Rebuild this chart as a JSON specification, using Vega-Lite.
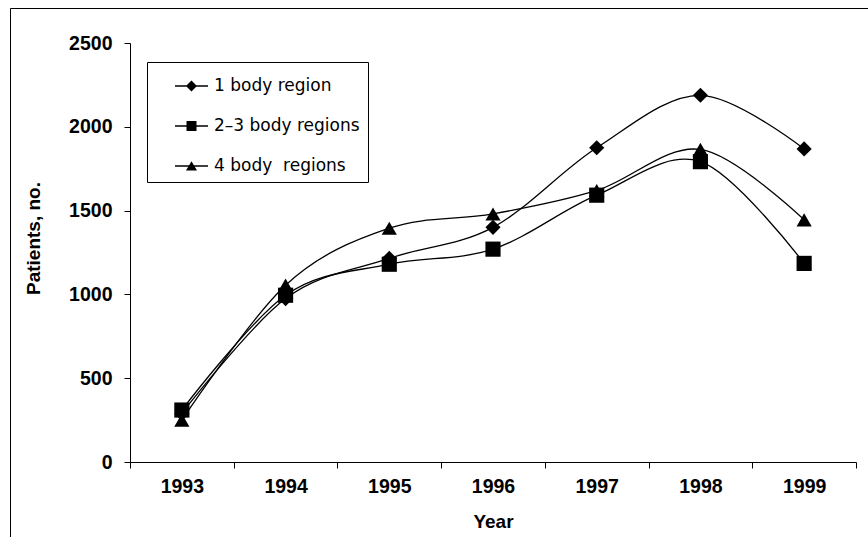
{
  "$schema": "https://vega.github.io/schema/vega-lite/v6.json",
  "width": 870,
  "height": 540,
  "autosize": {"type": "none"},
  "padding": {"left": 10, "top": 8, "right": 0, "bottom": 0},
  "background": "white",
  "config": {
    "view": {"stroke": "black", "strokeWidth": 1},
    "font": "Liberation Sans"
  },
  "data": {
    "values": [
      {"year": 1993, "series": "1 body region", "patients": 290},
      {"year": 1994, "series": "1 body region", "patients": 975},
      {"year": 1995, "series": "1 body region", "patients": 1215},
      {"year": 1996, "series": "1 body region", "patients": 1400},
      {"year": 1997, "series": "1 body region", "patients": 1875},
      {"year": 1998, "series": "1 body region", "patients": 2188},
      {"year": 1999, "series": "1 body region", "patients": 1868},
      {"year": 1993, "series": "2–3 body regions", "patients": 310},
      {"year": 1994, "series": "2–3 body regions", "patients": 995},
      {"year": 1995, "series": "2–3 body regions", "patients": 1180},
      {"year": 1996, "series": "2–3 body regions", "patients": 1270},
      {"year": 1997, "series": "2–3 body regions", "patients": 1592},
      {"year": 1998, "series": "2–3 body regions", "patients": 1792},
      {"year": 1999, "series": "2–3 body regions", "patients": 1185},
      {"year": 1993, "series": "4 body\u00a0 regions", "patients": 250},
      {"year": 1994, "series": "4 body\u00a0 regions", "patients": 1055},
      {"year": 1995, "series": "4 body\u00a0 regions", "patients": 1395},
      {"year": 1996, "series": "4 body\u00a0 regions", "patients": 1480},
      {"year": 1997, "series": "4 body\u00a0 regions", "patients": 1620},
      {"year": 1998, "series": "4 body\u00a0 regions", "patients": 1865},
      {"year": 1999, "series": "4 body\u00a0 regions", "patients": 1445}
    ]
  },
  "encoding": {
    "x": {
      "field": "year",
      "type": "ordinal",
      "scale": {"type": "band", "range": [120, 846], "paddingInner": 0, "paddingOuter": 0},
      "axis": {
        "title": "Year",
        "offset": -86,
        "tickBand": "extent",
        "labelAngle": 0,
        "grid": false,
        "domainColor": "black",
        "tickColor": "black",
        "tickSize": 6,
        "labelFont": "Liberation Sans",
        "labelFontWeight": "bold",
        "labelFontSize": 19.5,
        "labelColor": "black",
        "labelPadding": 9,
        "titleFont": "Liberation Sans",
        "titleFontSize": 19,
        "titleFontWeight": "bold",
        "titleColor": "black",
        "titleY": 65,
        "titleBaseline": "alphabetic"
      }
    },
    "y": {
      "field": "patients",
      "type": "quantitative",
      "scale": {"domain": [0, 2500], "range": [454, 35], "nice": false},
      "axis": {
        "title": "Patients, no.",
        "offset": -120,
        "values": [0, 500, 1000, 1500, 2000, 2500],
        "format": "d",
        "grid": false,
        "domainColor": "black",
        "tickColor": "black",
        "tickSize": 6,
        "labelPadding": 12,
        "labelFont": "Liberation Sans",
        "labelFontWeight": "bold",
        "labelFontSize": 19.5,
        "labelColor": "black",
        "titleFont": "Liberation Sans",
        "titleFontSize": 19,
        "titleFontWeight": "bold",
        "titleColor": "black",
        "titleX": -87,
        "titleY": 230
      }
    }
  },
  "layer": [
    {
      "mark": {"type": "line", "interpolate": "cardinal", "color": "black", "strokeWidth": 1.3},
      "encoding": {"detail": {"field": "series", "type": "nominal"}}
    },
    {
      "mark": {"type": "point", "filled": true, "color": "black", "opacity": 1, "size": 230},
      "encoding": {
        "shape": {
          "field": "series",
          "type": "nominal",
          "scale": {
            "domain": ["1 body region", "2–3 body regions", "4 body\u00a0 regions"],
            "range": ["diamond", "square", "triangle-up"]
          },
          "legend": null
        }
      }
    },
    {
      "mark": {"type": "point", "filled": true, "color": "black", "opacity": 1, "size": 0},
      "encoding": {
        "shape": {
          "field": "series",
          "type": "nominal",
          "scale": {
            "domain": ["1 body region", "2–3 body regions", "4 body\u00a0 regions"],
            "range": [
              "M0.25,-0.04H2.3125V0.04H0.25ZM1.281,-0.344L1.625,0L1.281,0.344L0.937,0Z",
              "M0.25,-0.04H2.3125V0.04H0.25ZM0.969,-0.3125H1.594V0.3125H0.969Z",
              "M0.25,-0.04H2.3125V0.04H0.25ZM1.281,-0.3L1.625,0.28H0.937Z"
            ]
          },
          "legend": {
            "title": null,
            "orient": "none",
            "legendX": 137,
            "legendY": 54,
            "strokeColor": "black",
            "fillColor": "white",
            "padding": 8,
            "rowPadding": 16,
            "symbolSize": 1024,
            "labelOffset": 27,
            "labelFont": "DejaVu Sans",
            "labelFontSize": 17,
            "labelColor": "black",
            "symbolFillColor": "black",
            "symbolStrokeColor": "black",
            "symbolStrokeWidth": 0,
            "symbolOpacity": 1
          }
        }
      }
    }
  ],
  "resolve": {"scale": {"shape": "independent"}, "legend": {"shape": "independent"}}
}
